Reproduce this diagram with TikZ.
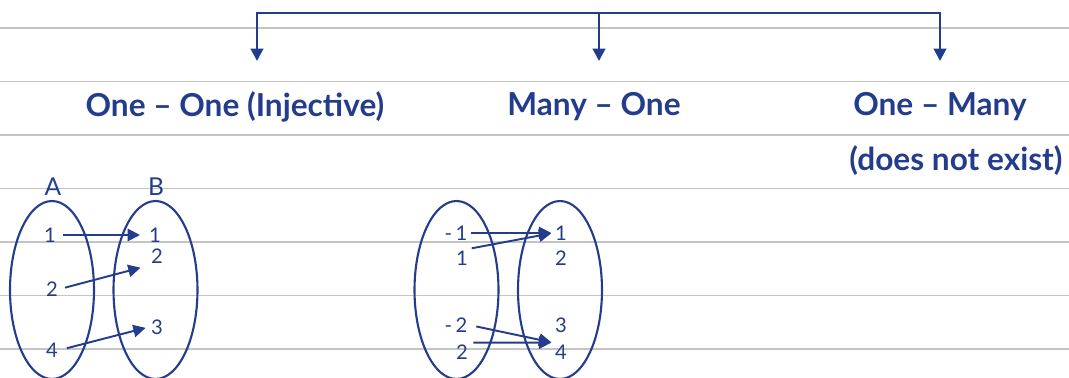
\documentclass[tikz,border=0pt]{standalone}
\usepackage{fontspec}
\setmainfont{Lato}
\usetikzlibrary{arrows.meta, shapes.geometric}

\begin{document}
\begin{tikzpicture}[
    x=0.02cm, y=-0.02cm,
    every node/.style={text=ink},
]

% ---------------------------------------------------------------- colours
\definecolor{ink}{HTML}{233D8C}     % lines, rings, arrows, text
\definecolor{rulecolor}{HTML}{C4C4C4}   % the ruled paper

\tikzset{
    ruleline/.style={draw=rulecolor, line width=1.1pt},
    bracket/.style={draw=ink, line width=1.6pt},
    title/.style={font=\fontsize{18}{21}\selectfont\bfseries},
    setname/.style={font=\fontsize{14}{16}\selectfont},
    num/.style={font=\fontsize{11.5}{13}\selectfont, inner sep=1pt},
    setring/.style={ellipse, draw=ink, line width=1.2pt, inner sep=0pt,
                    minimum width=1.68cm, minimum height=3.56cm},
    maps/.style={draw=ink, line width=1.1pt, shorten <=1pt, shorten >=1pt,
                 -{Triangle[length=7pt, width=7pt]}},
}

% ================================================================
% GEOMETRY (one unit = one pixel, y runs down)
%   ruled lines      y = 28 .. 349, every 53.5
%   bracket          y = 13, arrows down to y = 61
%   titles           y = 107 (and 161)
%   set rings        top y = 201, centres x = 52, 155.5, 456.5, 560
% ================================================================

\useasboundingbox (0,0) rectangle (1069,378);

% ---------------------------------------------------------------- paper
\foreach \y in {28, 81.5, 135, 188.5, 242, 295.5, 349}
    \draw[ruleline] (0,\y) -- (1069,\y);

% ---------------------------------------------------------------- the bracket
\coordinate (hub1) at (257,13);
\coordinate (hub2) at (599,13);
\coordinate (hub3) at (940,13);
\coordinate (tip1) at (257,61);
\coordinate (tip2) at (599,61);
\coordinate (tip3) at (940,61);

\draw[bracket, {Triangle[length=7pt, width=7pt]}-{Triangle[length=7pt, width=7pt]}]
    (tip1) |- (hub3) -- (tip3);
\draw[bracket, -{Triangle[length=7pt, width=7pt]}] (hub2) -- (tip2);

% ---------------------------------------------------------------- titles
\node[title] (oneone)  at (235,107) {One – One (Injective)};
\node[title] (manyone) at (594,107) {Many – One};
\node[title] (onemany) at (940,107) {One – Many};
\node[title] (noexist) at (956,161) {(does not exist)};

% ---------------------------------------------------------------- one - one
\node[setname] (nameA) at (53,187) {A};
\node[setname] (nameB) at (156,187) {B};
\node[setring] (ringA) at (52,290) {};
\node[setring] (ringB) at (155.5,290) {};

\node[num] (a1) at (50,235) {1};
\node[num] (a2) at (52,289) {2};
\node[num] (a4) at (52,350) {4};
\node[num] (b1) at (155,235) {1};
\node[num] (b2) at (157,256) {2};
\node[num] (b3) at (157,327) {3};

\draw[maps, shorten <=3pt, shorten >=4pt] (a1.east) -- (b1.west);
\draw[maps, shorten <=3pt, shorten >=5pt] (a2.east) -- (b2.south west);
\draw[maps, shorten <=4pt, shorten >=2pt] (a4.east) -- (b3.west);

% ---------------------------------------------------------------- many - one
\node[setring] (ringC) at (456.5,290) {};
\node[setring] (ringD) at (560,290) {};

\node[num] (c1) at (456,233) {-\,1};
\node[num] (c2) at (462,258) {1};
\node[num] (c3) at (456,325) {-\,2};
\node[num] (c4) at (462,352) {2};
\node[num] (d1) at (561,233) {1};
\node[num] (d2) at (561,258) {2};
\node[num] (d3) at (561,325) {3};
\node[num] (d4) at (561,352) {4};

\draw[maps] (c1.east) -- (d1.west);
\draw[maps] (c2.north east) -- (d1.west);
\draw[maps, shorten <=4pt] (c3.east) -- (d4.north west);
\draw[maps, shorten <=2pt] (c4.north east) -- (d4.north west);

\end{tikzpicture}
\end{document}
